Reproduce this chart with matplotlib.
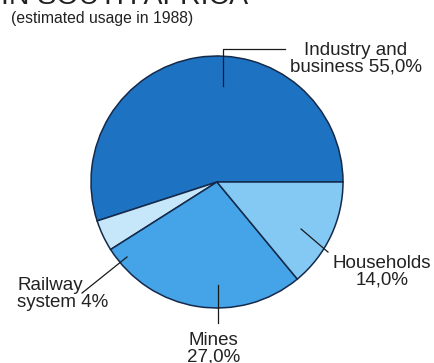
import matplotlib.pyplot as plt

plt.rcParams['font.family'] = ['Liberation Sans', 'DejaVu Sans']

# electricity usage shares, counter-clockwise from 3 o'clock
sectors = ["Industry and\nbusiness", "Railway\nsystem", "Mines", "Households"]
shares = [55.0, 4.0, 27.0, 14.0]
share_text = ["55,0%", "4%", "27,0%", "14,0%"]
colours = ["#1e72c2", "#c6e6f9", "#45a3e8", "#84c9f3"]

W, H = 435, 363
fig = plt.figure(figsize=(W / 100, H / 100), dpi=100)

# pie: centre (217, 182) px, radius 126 px
cx, cy, r = 217, 182, 126
ax = fig.add_axes([(cx - r) / W, (H - cy - r) / H, 2 * r / W, 2 * r / H])
ax.pie(shares, colors=colours, startangle=0, counterclock=True, radius=1,
       wedgeprops=dict(edgecolor="#152a4a", linewidth=1.1))
ax.set_xlim(-1, 1)
ax.set_ylim(-1, 1)
ax.set_aspect("equal")
ax.axis("off")

tc = "#222222"
lc = "#1a1a1a"
fs = 13.5

# industry and business
ax.plot([0.048, 0.048, 0.54], [0.762, 1.056, 1.056], color=lc, lw=0.9, clip_on=False)
ax.text(1.103, 0.98, sectors[0] + " " + share_text[0], ha="center", va="center",
        fontsize=fs, color=tc, linespacing=0.95)

# households
ax.plot([0.667, 0.881], [-0.373, -0.556], color=lc, lw=0.9, clip_on=False)
ax.text(1.31, -0.714, sectors[3] + "\n" + share_text[3], ha="center", va="center",
        fontsize=fs, color=tc, linespacing=0.95)

# railway system
ax.plot([-0.714, -1.071], [-0.595, -0.881], color=lc, lw=0.9, clip_on=False)
ax.text(-1.587, -0.889, sectors[1] + " " + share_text[1], ha="left", va="center",
        fontsize=fs, color=tc, linespacing=0.95)

# mines
ax.plot([0.008, 0.008], [-0.817, -1.119], color=lc, lw=0.9, clip_on=False)
ax.text(-0.03, -1.19, sectors[2] + "\n" + share_text[2], ha="center", va="top",
        fontsize=fs, color=tc, linespacing=0.95)

fig.text(1 / W, 1 - 4 / H, "IN SOUTH AFRICA", va="baseline", ha="left",
         fontsize=20.5, color=tc)
fig.text(11 / W, 1 - 11 / H, "(estimated usage in 1988)", va="top", ha="left",
         fontsize=11.3, color=tc)

fig.savefig("out.png", dpi=100)
